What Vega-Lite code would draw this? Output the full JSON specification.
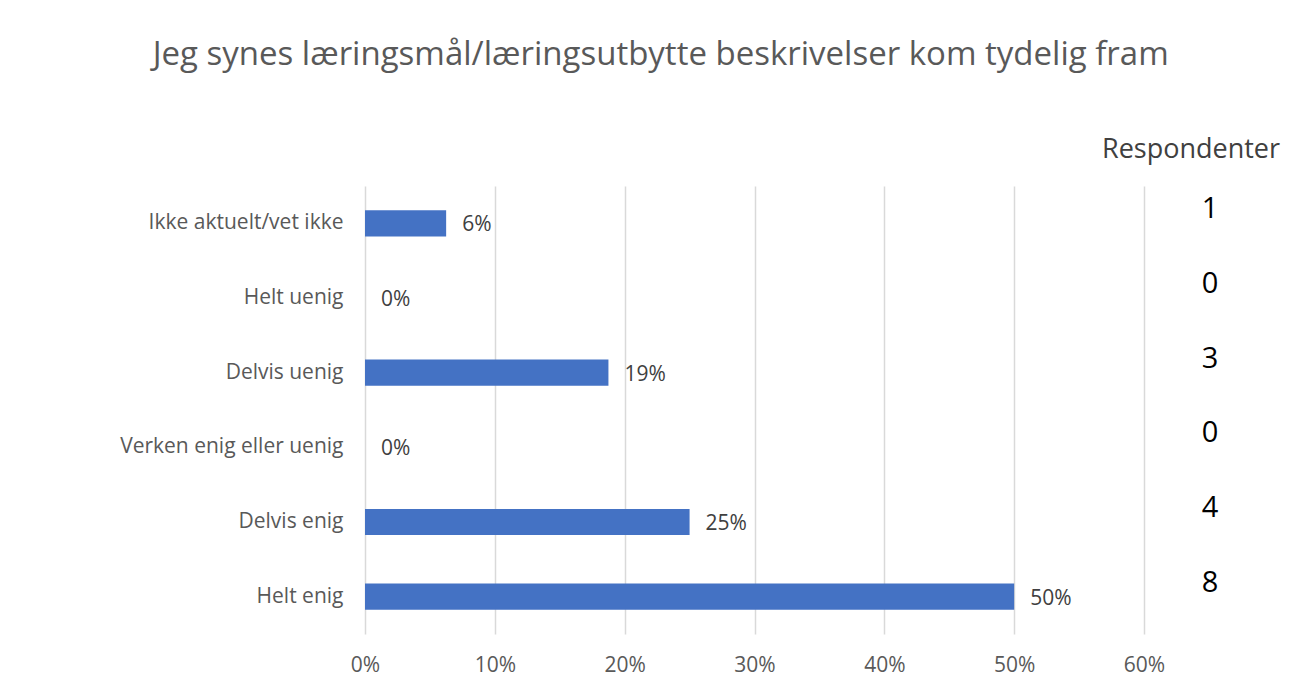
{
  "$schema": "https://vega.github.io/schema/vega-lite/v6.json",
  "background": "white",
  "padding": {"left": 119, "top": 39, "right": 8, "bottom": 10},
  "title": {
    "text": "Jeg synes læringsmål/læringsutbytte beskrivelser kom tydelig fram",
    "font": "Open Sans",
    "fontSize": 33,
    "fontWeight": "normal",
    "color": "#595959",
    "anchor": "start",
    "frame": "bounds",
    "dx": 33,
    "offset": 64
  },
  "datasets": {
    "d": [
      {"kategori": "Ikke aktuelt/vet ikke", "andel": 0.0625, "antall": 1},
      {"kategori": "Helt uenig", "andel": 0, "antall": 0},
      {"kategori": "Delvis uenig", "andel": 0.1875, "antall": 3},
      {"kategori": "Verken enig eller uenig", "andel": 0, "antall": 0},
      {"kategori": "Delvis enig", "andel": 0.25, "antall": 4},
      {"kategori": "Helt enig", "andel": 0.5, "antall": 8}
    ]
  },
  "data": {"name": "d"},
  "spacing": -65,
  "hconcat": [
    {
      "width": 779,
      "height": 448,
      "encoding": {
        "y": {
          "field": "kategori",
          "type": "nominal",
          "sort": null,
          "scale": {"paddingInner": 0.65, "paddingOuter": 0.325},
          "axis": {
            "title": null,
            "ticks": false,
            "domain": false,
            "labelPadding": 22,
            "labelFont": "Open Sans",
            "labelFontSize": 21,
            "labelColor": "#595959",
            "labelLimit": 400
          }
        },
        "x": {
          "field": "andel",
          "type": "quantitative",
          "scale": {"domain": [0, 0.6], "nice": false},
          "axis": {
            "title": null,
            "format": ".0%",
            "values": [0, 0.1, 0.2, 0.3, 0.4, 0.5, 0.6],
            "ticks": false,
            "domain": false,
            "grid": true,
            "gridColor": "#d9d9d9",
            "gridWidth": 1.5,
            "labelFlush": false,
            "labelPadding": 20,
            "labelFont": "Open Sans",
            "labelFontSize": 21,
            "labelColor": "#595959"
          }
        }
      },
      "layer": [
        {"mark": {"type": "bar", "color": "#4472C4"}},
        {
          "mark": {
            "type": "text",
            "align": "left",
            "baseline": "middle",
            "dx": 16,
            "dy": 2,
            "font": "Open Sans",
            "fontSize": 21,
            "color": "#404040"
          },
          "encoding": {"text": {"field": "andel", "type": "quantitative", "format": ".0%"}}
        }
      ]
    },
    {
      "width": 132,
      "height": 448,
      "title": {
        "text": "Respondenter",
        "font": "Open Sans",
        "fontSize": 27,
        "fontWeight": "normal",
        "color": "#404040",
        "anchor": "middle",
        "dx": -40,
        "offset": 22
      },
      "mark": {
        "type": "text",
        "align": "center",
        "baseline": "middle",
        "dx": -21,
        "dy": -14,
        "font": "Open Sans",
        "fontSize": 29,
        "color": "#000000"
      },
      "encoding": {
        "y": {
          "field": "kategori",
          "type": "nominal",
          "sort": null,
          "scale": {"paddingInner": 0.65, "paddingOuter": 0.325},
          "axis": null
        },
        "text": {"field": "antall", "type": "quantitative"}
      }
    }
  ],
  "config": {
    "view": {"stroke": null}
  }
}
